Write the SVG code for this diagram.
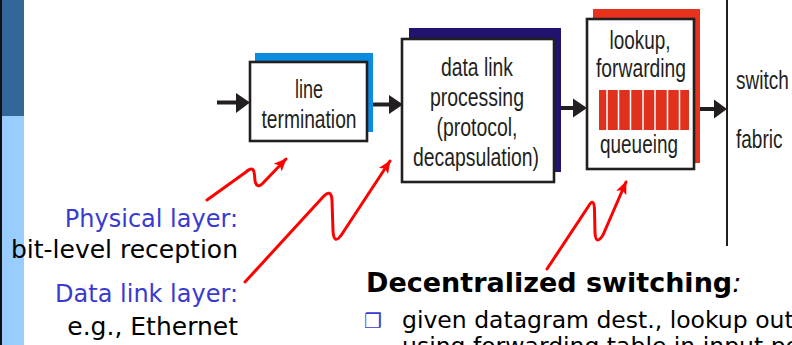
<svg xmlns="http://www.w3.org/2000/svg" width="792" height="345" viewBox="0 0 792 345">
<defs>
<style>
.box{fill:#fff;stroke:#231f20;stroke-width:2.6}
.bt{font-family:"Liberation Sans",Arial,sans-serif;font-size:25px;fill:#231f20;text-anchor:middle}
.conn{stroke:#231f20;stroke-width:4;fill:none}
.head{fill:#231f20}
.red{stroke:#ff0000;stroke-width:3;fill:none;stroke-linecap:round;stroke-linejoin:round}
.cs{font-family:"DejaVu Sans","Noto Sans",sans-serif}
.blue{fill:#3a3ad0}
.blk{fill:#000}
</style>
<marker id="rh" markerUnits="userSpaceOnUse" markerWidth="14" markerHeight="14" viewBox="0 0 14 14" refX="12" refY="7" orient="auto">
<path d="M0,1.5 L13,7 L0,12.5 L3,7 Z" fill="#ff0000"/>
</marker>
</defs>
<rect x="0" y="0" width="2" height="345" fill="#111"/>
<rect x="2" y="0" width="22" height="116" fill="#336699"/>
<rect x="2" y="116" width="22" height="229" fill="#99ccff"/>
<g id="connectors">
<line class="conn" x1="217" y1="102.5" x2="238" y2="102.5"/>
<path class="head" d="M236,93 L250,102.5 L236,113 Z"/>
<line class="conn" x1="367" y1="104.5" x2="390" y2="104.5"/>
<path class="head" d="M389,95 L403,104.5 L389,114 Z"/>
<line class="conn" x1="555" y1="108" x2="574" y2="108"/>
<path class="head" d="M573,98.5 L587,108 L573,117.5 Z"/>
<line class="conn" x1="695" y1="109" x2="715" y2="109"/>
<path class="head" d="M714,99.5 L727,109 L714,118.5 Z"/>
<line x1="727" y1="0" x2="727" y2="246" stroke="#231f20" stroke-width="2"/>
<path class="red" d="M207,200 L246,172 Q254,165 254.5,175 L255,181 Q257,190 264,182 L286,159" marker-end="url(#rh)"/>
<path class="red" d="M245,282 L323,197 Q331,188 332,200 L333,231 Q334,246 342,234 L390,161" marker-end="url(#rh)"/>
<path class="red" d="M547,269 L588,207 Q594,196 594.5,210 L595,233 Q596,246 603,235 L626,182" marker-end="url(#rh)"/>
</g>
<g id="line-termination">
<rect x="255" y="53" width="118" height="79" fill="#0b8ce0"/>
<rect class="box" x="250" y="62" width="117" height="79"/>
<text class="bt" x="309" y="98" textLength="28" lengthAdjust="spacingAndGlyphs">line</text>
<text class="bt" x="309" y="128" textLength="95" lengthAdjust="spacingAndGlyphs">termination</text>
</g>
<g id="data-link">
<rect x="409" y="28" width="152" height="144" fill="#22146e"/>
<rect class="box" x="402" y="39" width="152" height="143"/>
<text class="bt" x="477" y="76" textLength="72" lengthAdjust="spacingAndGlyphs">data link</text>
<text class="bt" x="477" y="106" textLength="94" lengthAdjust="spacingAndGlyphs">processing</text>
<text class="bt" x="477" y="136" textLength="81" lengthAdjust="spacingAndGlyphs">(protocol,</text>
<text class="bt" x="476" y="166" textLength="126" lengthAdjust="spacingAndGlyphs">decapsulation)</text>
</g>
<g id="lookup">
<rect x="593" y="9" width="107" height="154" fill="#e8321e"/>
<rect class="box" x="587" y="19" width="107" height="150"/>
<text class="bt" x="640" y="49" textLength="61" lengthAdjust="spacingAndGlyphs">lookup,</text>
<text class="bt" x="641" y="77" textLength="90" lengthAdjust="spacingAndGlyphs">forwarding</text>
<rect x="599" y="90" width="90" height="40" fill="#e0301e"/>
<g stroke="#fff" stroke-width="1.5">
<line x1="607" y1="90" x2="607" y2="130"/>
<line x1="618.5" y1="90" x2="618.5" y2="130"/>
<line x1="630.5" y1="90" x2="630.5" y2="130"/>
<line x1="643" y1="90" x2="643" y2="130"/>
<line x1="655" y1="90" x2="655" y2="130"/>
<line x1="667.5" y1="90" x2="667.5" y2="130"/>
<line x1="679.5" y1="90" x2="679.5" y2="130"/>
</g>
<text class="bt" x="639" y="153" textLength="78" lengthAdjust="spacingAndGlyphs">queueing</text>
</g>
<g id="switch-fabric">
<text class="bt" transform="translate(736,89) scale(0.76,1)" x="0" y="0" style="text-anchor:start">switch</text>
<text class="bt" transform="translate(736,148) scale(0.76,1)" x="0" y="0" style="text-anchor:start">fabric</text>
</g>
<g id="labels" class="cs" font-size="24">
<text class="blue" x="238" y="227" text-anchor="end">Physical layer:</text>
<text class="blk" x="238" y="258" text-anchor="end" font-size="25">bit-level reception</text>
<text class="blue" x="238" y="302" text-anchor="end">Data link layer:</text>
<text class="blk" x="238" y="335" text-anchor="end" font-size="25">e.g., Ethernet</text>
</g>
<g id="text-block" class="cs">
<text class="blk" x="366" y="292" font-size="27" font-weight="bold">Decentralized switching<tspan font-style="italic" font-weight="normal">:</tspan></text>
<text x="364" y="328" font-size="20" fill="#3a3ad0">❒</text>
<text class="blk" x="402" y="328" font-size="23.5">given datagram dest., lookup output port</text>
<text class="blk" x="402" y="354" font-size="23.5">using forwarding table in input port memory</text>
</g>
</svg>
